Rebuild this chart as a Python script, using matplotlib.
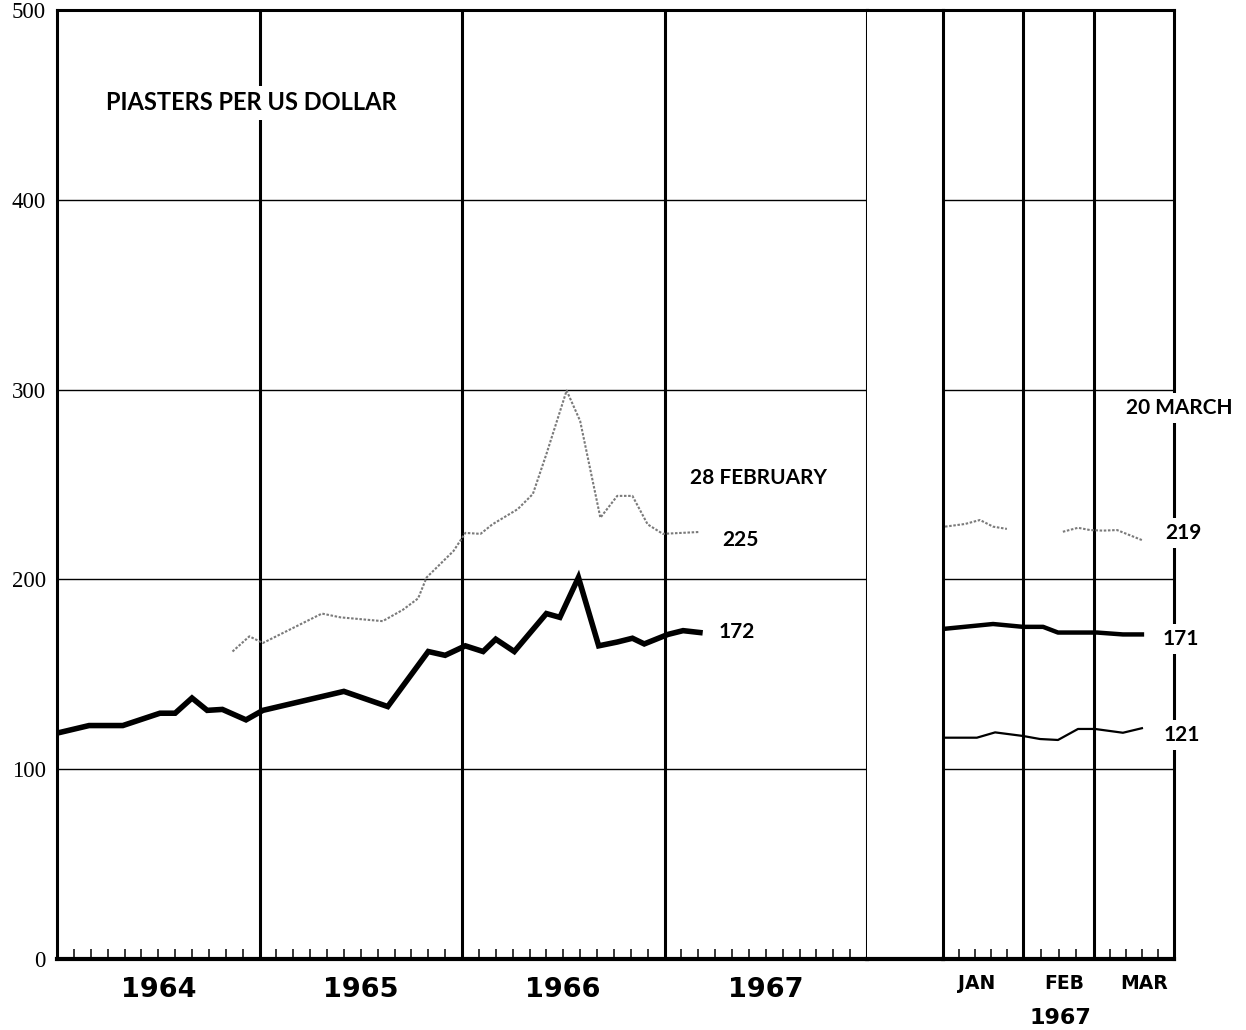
import matplotlib
matplotlib.use('Agg')
import matplotlib.pyplot as plt
import numpy as np

# ---------------- data ----------------
year_labels = ['1964', '1965', '1966', '1967']
month_labels = ['JAN', 'FEB', 'MAR']
sub_year_label = '1967'
y_ticks = [0, 100, 200, 300, 400, 500]

# Left panel: x = months since 1 Jan 1964
thick_m = [0, 1.9, 3.9, 6.1, 7.0, 8.0, 8.9, 9.8, 11.2, 12.2, 17.0, 19.6, 22.0, 23.0,
           24.2, 25.25, 26.0, 27.1, 29.0, 29.8, 30.9, 32.1, 33.2, 34.1, 34.8, 36.2, 37.1, 38.1]
thick_v = [119, 123, 123, 129.5, 129.5, 137.5, 131, 131.5, 126, 131, 141, 133, 162, 160,
           165, 162, 168.5, 162, 182, 180, 201, 165, 167, 169, 166, 171, 173, 172]

gray_m = [10.4, 11.4, 12.2, 15.7, 16.8, 19.3, 20.5, 21.4, 21.9, 23.5, 24.2, 25.1, 25.8,
          27.3, 28.2, 29.0, 30.2, 31.0, 32.2, 33.2, 34.1, 35.0, 35.9, 38.1]
gray_v = [162, 170, 166.5, 182, 180, 178, 184, 190, 201, 215, 224.5, 224, 229,
          237, 245, 266, 299.5, 283.5, 232.5, 244, 244, 229, 224, 225]

# Right panel: x = days since 1 Jan 1967
thick_r_d = [0.8, 19.5, 31.2, 39.0, 44.8, 60.0, 70.1, 77.5]
thick_r_v = [174, 176.5, 175, 175, 172, 172, 171, 171]

thin_r_d = [0.8, 13.2, 20.3, 31.2, 37.8, 44.8, 52.6, 59.2, 70.1, 77.5]
thin_r_v = [116.6, 116.6, 119.4, 117.5, 115.9, 115.4, 121.2, 121.2, 119.2, 121.6]

gray_r_d = [0.8, 8.6, 14.4, 19.5, 24.9, np.nan, 46.7, 52.6, 57.3, 62.3, 67.8, 77.9]
gray_r_v = [227.8, 229.2, 231.3, 227.8, 226.6, np.nan, 225.1, 227.2, 226, 225.7, 226, 220.5]

end_left_labels = ['225', '172']
end_right_labels = ['219', '171', '121']

# ---------------- layout ----------------
W, H = 1246, 1030
fig = plt.figure(figsize=(W / 100, H / 100), dpi=100)
fig.patch.set_facecolor('white')


def rect(x0, x1, y0, y1):
    return [x0 / W, 1 - y1 / H, (x1 - x0) / W, (y1 - y0) / H]


axL = fig.add_axes(rect(57, 867, 10, 959))
axG = fig.add_axes(rect(867, 943, 10, 959))
axR = fig.add_axes(rect(943, 1174, 10, 959))

SP = 2.2
for ax in (axL, axG, axR):
    ax.set_ylim(0, 500)
    for s in ax.spines.values():
        s.set_linewidth(SP)
        s.set_color('black')
    ax.spines['bottom'].set_linewidth(3.0)

# gap column
axG.set_xticks([])
axG.set_yticks([])
axG.spines['left'].set_visible(False)
axG.spines['right'].set_visible(False)

# left panel
axL.set_xlim(0, 48)
for v in y_ticks[1:-1]:
    axL.axhline(v, color='black', lw=1.0, zorder=1)
    axR.axhline(v, color='black', lw=1.0, zorder=1)
for yb in (12, 24, 36):
    axL.axvline(yb, color='black', lw=SP, zorder=1.5)
axL.set_xticks([m for m in range(1, 48) if m % 12 != 0])
axL.tick_params(axis='x', direction='in', length=7.5, width=1.1, labelbottom=False)
axL.set_yticks(y_ticks)
axL.set_yticklabels([str(v) for v in y_ticks], fontfamily='Liberation Serif', fontsize=16.5)
axL.tick_params(axis='y', length=0, pad=8)

axL.plot(gray_m, gray_v, color='#7a7a7a', lw=1.5, ls=(0, (1.2, 0.8)), zorder=2)
axL.plot(thick_m, thick_v, color='black', lw=4.0, solid_joinstyle='miter', zorder=3)

for i, lab in enumerate(year_labels):
    axL.text(6 + 12 * i, -0.033, lab, transform=axL.get_xaxis_transform(),
             ha='center', va='center', fontfamily='DejaVu Sans', fontweight='bold', fontsize=19.5)

# right panel
axR.set_xlim(0, 90)
for mb in (31, 59):
    axR.axvline(mb, color='black', lw=SP, zorder=1.5)
r_ticks = [6.2, 12.4, 18.6, 24.8, 38, 45, 52, 65.2, 71.4, 77.6, 83.8]
axR.set_xticks(r_ticks)
axR.tick_params(axis='x', direction='in', length=7.5, width=1.1, labelbottom=False)
axR.set_yticks([])

axR.plot(gray_r_d, gray_r_v, color='#7a7a7a', lw=1.5, ls=(0, (1.2, 0.8)), zorder=2)
axR.plot(thick_r_d, thick_r_v, color='black', lw=3.2, zorder=3)
axR.plot(thin_r_d, thin_r_v, color='black', lw=1.6, zorder=3)

for lab, d in zip(month_labels, [13.2, 47.1, 78.3]):
    axR.text(d, -0.026, lab, transform=axR.get_xaxis_transform(),
             ha='center', va='center', fontfamily='DejaVu Sans', fontweight='bold', fontsize=13.5)
axR.text(45.6, -0.062, sub_year_label, transform=axR.get_xaxis_transform(),
         ha='center', va='center', fontfamily='DejaVu Sans', fontweight='bold', fontsize=16)

# annotations (figure pixel positions)
def ftext(x, y, s, size=15, **kw):
    fig.text(x / W, 1 - y / H, s, ha='center', va='center', fontfamily='Lato',
             fontweight='bold', fontsize=size, zorder=5,
             bbox=dict(boxstyle='square,pad=0.25', fc='white', ec='none'), **kw)

ftext(251, 103, 'PIASTERS PER US DOLLAR', size=17)
ftext(759, 478, '28 FEBRUARY')
ftext(740, 540, end_left_labels[0])
ftext(737, 632, end_left_labels[1])
ftext(1179, 408, '20 MARCH')
ftext(1183, 533, end_right_labels[0])
ftext(1181, 639, end_right_labels[1])
ftext(1182, 735, end_right_labels[2])

fig.savefig('out.png', dpi=100, facecolor='white')
